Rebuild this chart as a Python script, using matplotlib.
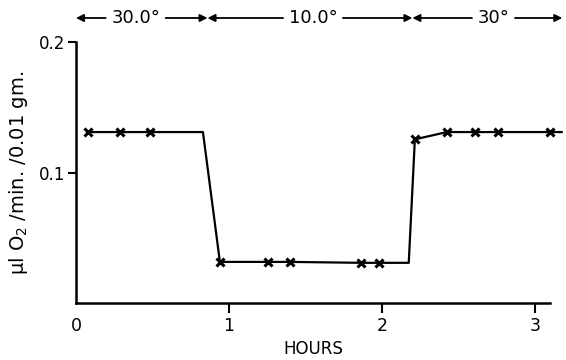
import matplotlib.pyplot as plt
import matplotlib.transforms as mtransforms

# respiration rate vs time
hours = [0.078, 0.288, 0.484, 0.83, 0.941, 1.255, 1.399, 1.863, 1.980,
         2.176, 2.216, 2.425, 2.608, 2.758, 3.098, 3.176]
rate = [0.131, 0.131, 0.131, 0.131, 0.0315, 0.0315, 0.0315, 0.0308, 0.0308,
        0.0308, 0.1254, 0.131, 0.131, 0.131, 0.131, 0.131]
# which of the points carry an x marker
marked = [0, 1, 2, 4, 5, 6, 7, 8, 10, 11, 12, 13, 14]

# temperature periods along the top
period_labels = ['30.0°', '10.0°', '30°']
period_edges = [0.0, 0.86, 2.2, 3.18]
label_pos = [0.39, 1.55, 2.73]

fig = plt.figure(figsize=(5.66, 3.6), dpi=100)
ax = fig.add_axes([0.1343, 0.1583, 0.8375, 0.725])

ax.plot(hours, rate, color='black', lw=1.6, marker='x', ms=5.5, mew=2.2,
        markevery=marked, clip_on=False)

ax.set_xlim(0, 3.1)
ax.set_ylim(0, 0.2)
ax.set_xticks([0, 1, 2, 3])
ax.set_xticklabels(['0', '1', '2', '3'], fontsize=12.5)
ax.set_yticks([0.1, 0.2])
ax.set_yticklabels(['0.1', '0.2'], fontsize=12)
ax.tick_params(axis='x', length=7, width=1.5, pad=3)
ax.tick_params(axis='y', length=6, width=1.5, pad=2)
ax.xaxis.get_major_ticks()[0].tick1line.set_visible(False)

for side in ['top', 'right']:
    ax.spines[side].set_visible(False)
ax.spines['left'].set_linewidth(1.8)
ax.spines['bottom'].set_linewidth(1.8)

ax.set_xlabel('HOURS', fontsize=12, labelpad=4)
ax.set_ylabel('μl O$_2$ /min. /0.01 gm.', fontsize=14, labelpad=6)

# arrows for the temperature periods
trans = mtransforms.blended_transform_factory(ax.transData, ax.transAxes)
y_arrow = 1.092
arrow = dict(arrowstyle='-|>', color='black', lw=1.3,
             mutation_scale=11, shrinkA=2, shrinkB=0)
for i, lab in enumerate(period_labels):
    ax.annotate(lab, xy=(period_edges[i], y_arrow), xycoords=trans,
                xytext=(label_pos[i], y_arrow), textcoords=trans,
                ha='center', va='center', fontsize=13,
                arrowprops=arrow, annotation_clip=False)
    ax.annotate(lab, xy=(period_edges[i + 1], y_arrow), xycoords=trans,
                xytext=(label_pos[i], y_arrow), textcoords=trans,
                ha='center', va='center', fontsize=13, color='none',
                arrowprops=arrow, annotation_clip=False)

fig.savefig('out.png', dpi=100)
